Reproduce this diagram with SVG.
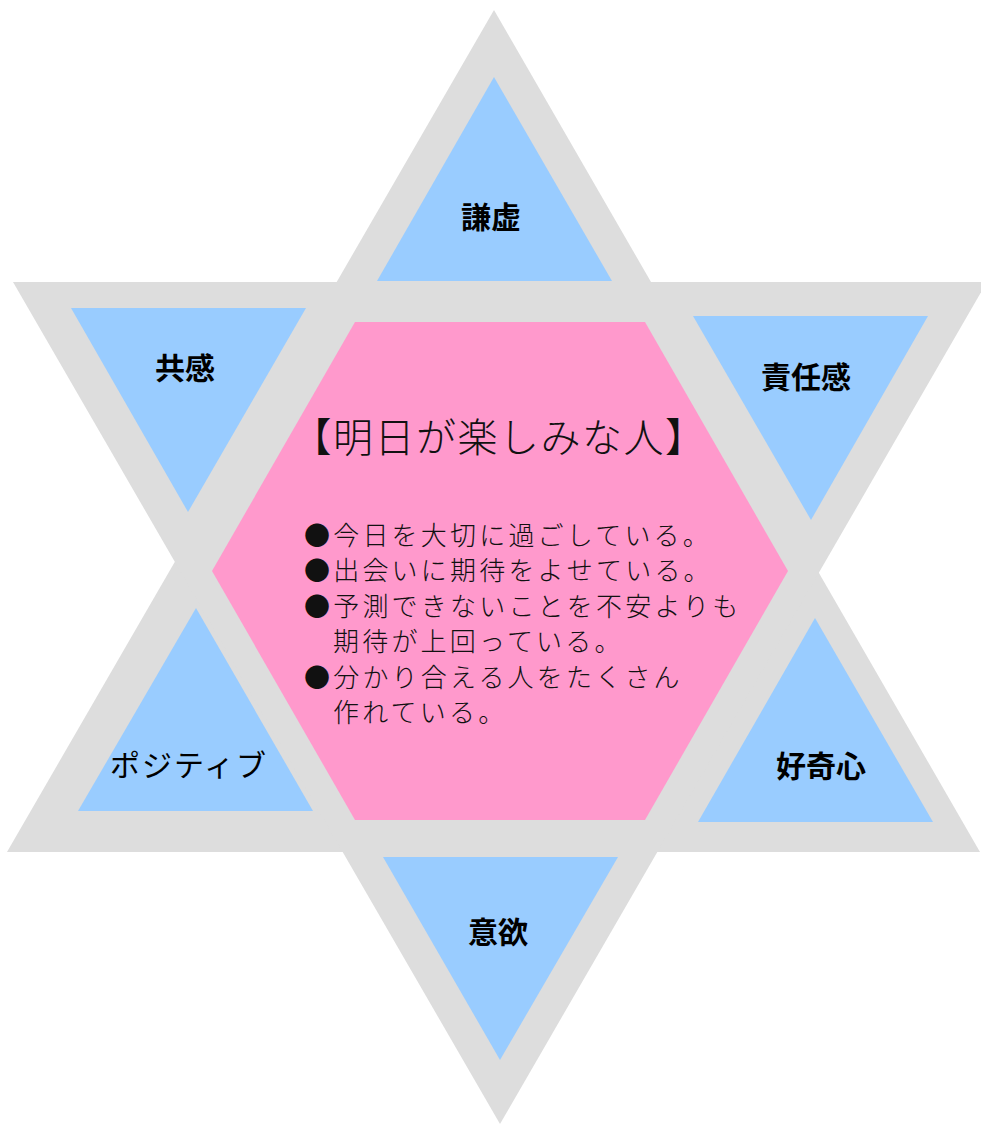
<svg xmlns="http://www.w3.org/2000/svg" width="981" height="1124" viewBox="0 0 981 1124">
<style>
.gray{fill:#dddddd}
.blue{fill:#99ccff}
.pink{fill:#ff99cc}
.lbl{font-family:"Noto Sans CJK JP","Noto Sans CJK SC",sans-serif;font-size:30px;font-weight:bold;fill:#000;text-anchor:middle}
.lbl2{font-family:"Noto Sans CJK JP","Noto Sans CJK SC",sans-serif;font-size:30px;letter-spacing:2px;fill:#000;text-anchor:middle}
.title{font-family:"Noto Sans CJK JP","Noto Sans CJK SC",sans-serif;font-size:40px;font-weight:300;letter-spacing:1.5px;fill:#111;text-anchor:middle}
.body{font-family:"Noto Sans CJK JP","Noto Sans CJK SC",sans-serif;font-size:26px;font-weight:300;letter-spacing:3.2px;fill:#111}
</style>
<rect width="981" height="1124" fill="#ffffff"/>
<g id="star">
<polygon class="gray" points="494,10 980,852 7,852"/>
<polygon class="gray" points="13,282 987,282 500,1124"/>
</g>
<g id="node-top">
<polygon class="blue" points="494,77 612,281 377,281"/>
<text class="lbl" x="491" y="228">謙虚</text>
</g>
<g id="node-upper-left">
<polygon class="blue" points="71,308 306,308 188,512"/>
<text class="lbl" x="185" y="379">共感</text>
</g>
<g id="node-upper-right">
<polygon class="blue" points="693,316 928,316 811,520"/>
<text class="lbl" x="806" y="388">責任感</text>
</g>
<g id="node-lower-left">
<polygon class="blue" points="196,608 313,811 78,811"/>
<text class="lbl2" x="189" y="776">ポジティブ</text>
</g>
<g id="node-lower-right">
<polygon class="blue" points="815,618 933,822 698,822"/>
<text class="lbl" x="821" y="777">好奇心</text>
</g>
<g id="node-bottom">
<polygon class="blue" points="383,857 618,857 500,1060"/>
<text class="lbl" x="498" y="943">意欲</text>
</g>
<g id="node-center">
<polygon class="pink" points="355,322 645,322 788,571 645,820 355,820 212,571"/>
<text class="title" x="499" y="452">【明日が楽しみな人】</text>
<text class="body" x="304" y="545">●今日を大切に過ごしている。</text>
<text class="body" x="304" y="580">●出会いに期待をよせている。</text>
<text class="body" x="304" y="616">●予測できないことを不安よりも</text>
<text class="body" x="333" y="651">期待が上回っている。</text>
<text class="body" x="304" y="687">●分かり合える人をたくさん</text>
<text class="body" x="333" y="722">作れている。</text>
</g>
<g id="connectors"></g>
</svg>
